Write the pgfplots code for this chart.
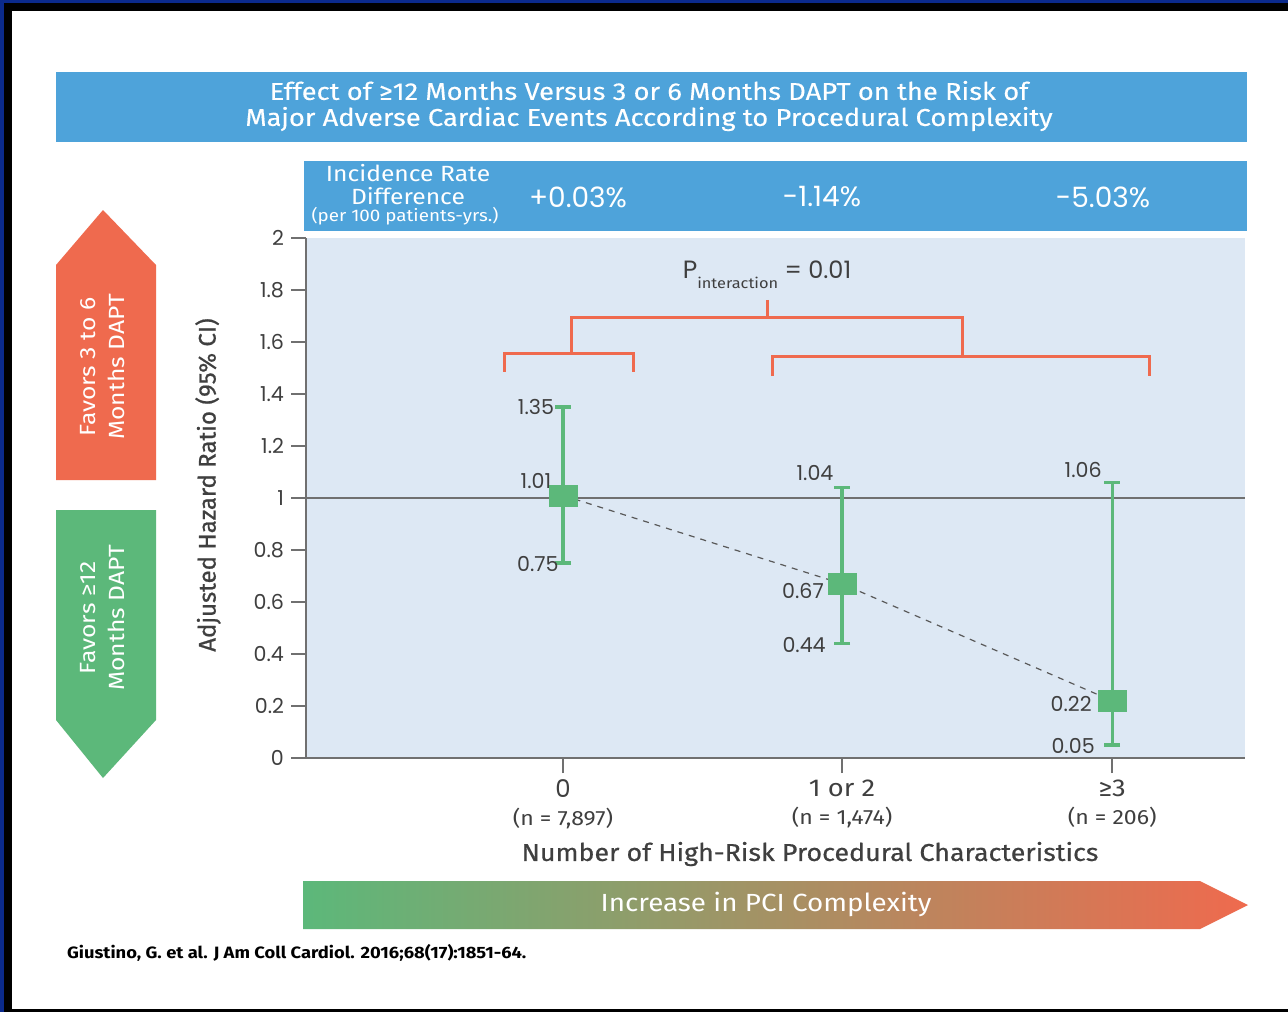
\documentclass[border=0pt]{standalone}
\usepackage{pgfplots}
\pgfplotsset{compat=1.18}
\usepackage{fontspec}
\setmainfont{Fira Sans}[FakeStretch=1.12]
\newfontfamily\plain{Fira Sans}
\newfontfamily\med{Fira Sans}[FakeStretch=1.1, FakeBold=0.6]
\newfontfamily\medc{Fira Sans}[FakeBold=0.8]
\newfontfamily\tit{Fira Sans}[FakeStretch=1.12, FakeBold=0.3]
\newfontfamily\numf{Poppins}
\definecolor{banner}{HTML}{4EA3DA}
\definecolor{plotbg}{HTML}{DDE8F4}
\definecolor{redc}{HTML}{EF6A4E}
\definecolor{greenc}{HTML}{5CB87A}
\definecolor{navy}{HTML}{0B2A8C}
\definecolor{txt}{HTML}{3F3F3F}
\definecolor{axgray}{HTML}{707070}
\newcommand{\fs}[2]{\fontsize{#1}{#2}\selectfont}
\begin{document}
\begin{tikzpicture}
\begin{scope}[x=0.5pt,y=-0.5pt]
\path[use as bounding box] (0,0) rectangle (1288,1012);
\fill[navy] (0,0) rectangle (1288,1012);
\fill[black] (4,3) rectangle (1288,1012);
\fill[white] (12,11) rectangle (1288,1009);
% title banner
\fill[banner] (56,72) rectangle (1247,142);
\node[white, align=center, font=\tit\fs{12.2pt}{13pt}] at (649,106) {Effect of ≥12 Months Versus 3 or 6 Months DAPT on the Risk of\\Major Adverse Cardiac Events According to Procedural Complexity};
% header bar
\fill[banner] (304,161) rectangle (1247,231);
\node[white, align=center, font=\fs{11pt}{11.5pt}] at (408,185) {Incidence Rate\\Difference};
\node[white, font=\fs{8.4pt}{9pt}] at (405,216) {(per 100 patients-yrs.)};
\node[white, font=\numf\fs{14pt}{14pt}] at (578,197) {+0.03\%};
\node[white, font=\numf\fs{14pt}{14pt}] at (822,197) {-1.14\%};
\node[white, font=\numf\fs{14pt}{14pt}] at (1103,197) {-5.03\%};
% left arrows
\fill[redc] (56,480) -- (56,265) -- (103,210) -- (156,265) -- (156,480) -- cycle;
\node[white, rotate=90, align=center, font=\fs{11pt}{14.5pt}] at (103,367) {Favors 3 to 6\\Months DAPT};
\fill[greenc] (56,510) -- (156,510) -- (156,720) -- (103,778) -- (56,720) -- cycle;
\node[white, rotate=90, align=center, font=\fs{11pt}{14.5pt}] at (103,618) {Favors ≥12\\Months DAPT};
% y label
\node[txt, rotate=90, font=\medc\fs{12pt}{12pt}] at (208,485) {Adjusted Hazard Ratio (95\% CI)};
% x label
\node[txt, font=\med\fs{12.2pt}{12pt}] at (810,854) {Number of High-Risk Procedural Characteristics};
% bottom arrow
\shade[left color=greenc, right color=redc] (303,881) -- (1200,881) -- (1248,905) -- (1200,929) -- (303,929) -- cycle;
\node[white, font=\fs{12.4pt}{12pt}] at (766,904) {Increase in PCI Complexity};
% citation
\node[anchor=west, font=\bfseries\fs{8.2pt}{8pt}] at (60,953) {Giustino, G. et al. J Am Coll Cardiol. 2016;68(17):1851-64.};
\end{scope}
\begin{axis}[
  at={(153pt,-379pt)}, anchor=south west,
  scale only axis, width=469.5pt, height=260pt,
  xmin=-0.921, xmax=2.444, ymin=0, ymax=2,
  clip=false,
  axis background/.style={fill=plotbg},
  axis x line*=bottom, axis y line*=left,
  axis line style={axgray, line width=1.4pt},
  tick align=outside, major tick length=7.5pt,
  tick style={axgray, line width=0.8pt},
  ytick={0,0.2,0.4,0.6,0.8,1,1.2,1.4,1.6,1.8,2},
  yticklabels={0,0.2,0.4,0.6,0.8,1,1.2,1.4,1.6,1.8,2},
  y tick label style={text=txt, font=\numf\fs{10.3pt}{10pt}},
  xtick={0,1,1.968},
  xticklabels={{{\numf 0}\\[1pt]{\fs{10.3pt}{10pt}(n = 7,897)}},{1 or 2\\[1pt]{\fs{10.3pt}{10pt}(n = 1,474)}},{≥3\\[1pt]{\fs{10.3pt}{10pt}(n = 206)}}},
  x tick label style={text=txt, align=center, font=\fs{12.2pt}{13pt}},
]
\addplot[axgray, line width=0.8pt] coordinates {(-0.921,1) (2.444,1)};
\addplot[dashed, gray!70!black, line width=0.6pt] coordinates {(0,1.01) (1,0.67) (1.968,0.22)};
\addplot[only marks, mark=square*, mark size=5.25pt, mark options={greenc, xscale=1.33},
  error bars/.cd, y dir=both, y explicit,
  error bar style={greenc, line width=1.6pt},
  error mark options={greenc, line width=1.6pt, mark size=4pt, rotate=90}]
  table[x=x, y=y, y error plus=ep, y error minus=em] {
x y ep em
0 1.01 0.34 0.26
1 0.67 0.37 0.23
1.968 0.22 0.84 0.17
};
% brackets
\draw[redc, line width=1.5pt] (axis cs:0.731,1.762) -- (axis cs:0.731,1.696);
\draw[redc, line width=1.5pt] (axis cs:0.029,1.554) -- (axis cs:0.029,1.696) -- (axis cs:1.430,1.696) -- (axis cs:1.430,1.546);
\draw[redc, line width=1.5pt] (axis cs:-0.208,1.485) -- (axis cs:-0.208,1.554) -- (axis cs:0.254,1.554) -- (axis cs:0.254,1.485);
\draw[redc, line width=1.5pt] (axis cs:0.749,1.469) -- (axis cs:0.749,1.546) -- (axis cs:2.100,1.546) -- (axis cs:2.100,1.469);
\node[txt] at (axis cs:0.731,1.858) {{\numf\fs{12.5pt}{12pt}P}\raisebox{-5pt}{\fs{7.3pt}{8pt}interaction}{\numf\fs{12pt}{12pt} = 0.01}};
% value labels
\begin{scope}[every node/.style={text=txt, font=\numf\fs{10.3pt}{10pt}}]
\node at (axis cs:-0.097,1.35) {1.35};
\node at (axis cs:-0.097,1.065) {1.01};
\node at (axis cs:-0.090,0.746) {0.75};
\node at (axis cs:0.903,1.096) {1.04};
\node at (axis cs:0.860,0.642) {0.67};
\node at (axis cs:0.864,0.435) {0.44};
\node at (axis cs:1.864,1.108) {1.06};
\node at (axis cs:1.821,0.208) {0.22};
\node at (axis cs:1.828,0.046) {0.05};
\end{scope}
\end{axis}
\end{tikzpicture}
\end{document}
